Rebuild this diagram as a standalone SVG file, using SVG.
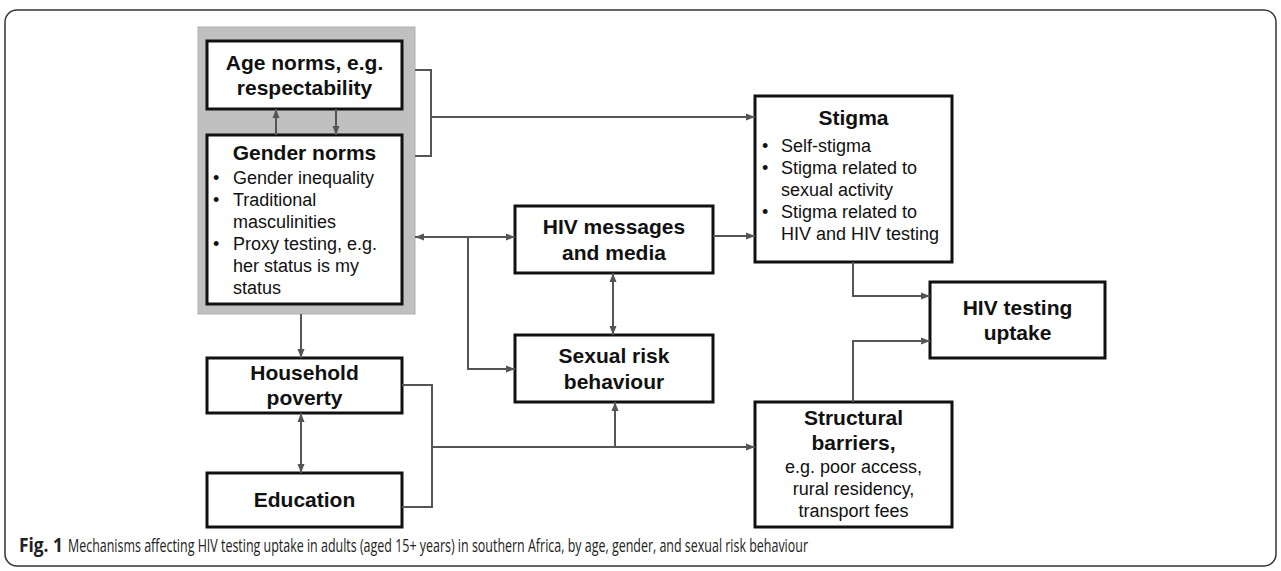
<svg xmlns="http://www.w3.org/2000/svg" width="1281" height="571" viewBox="0 0 1281 571">
<style>
.box{fill:#fff;stroke:#111;stroke-width:3}
.gray{fill:#c0c0c0;stroke:#b0b0b0;stroke-width:1}
.t{font-family:"Liberation Sans",Arial,sans-serif;font-size:21px;font-weight:bold;fill:#111;text-anchor:middle}
.r{font-family:"Liberation Sans",Arial,sans-serif;font-size:18px;fill:#111}
.rc{font-family:"Liberation Sans",Arial,sans-serif;font-size:18px;fill:#111;text-anchor:middle}
.c{fill:none;stroke:#555;stroke-width:2}
.cap{font-family:"Open Sans","Liberation Sans",sans-serif;font-size:19px;fill:#222}
</style>
<defs>
<marker id="ah" markerUnits="userSpaceOnUse" markerWidth="10" markerHeight="8" refX="9" refY="4" orient="auto-start-reverse">
<path d="M0,0.5 L9,4 L0,7.5 Z" fill="#555"/>
</marker>
</defs>
<rect x="5" y="10" width="1271" height="556" rx="12" fill="#fff" stroke="#333" stroke-width="1.5"/>
<g id="norms-group">
<rect class="gray" x="198" y="27" width="217" height="287"/>
</g>
<g id="age-norms">
<rect class="box" x="207" y="41" width="195" height="68"/>
<text class="t" x="304.5" y="70">Age norms, e.g.</text>
<text class="t" x="304.5" y="95">respectability</text>
</g>
<g id="gender-norms">
<rect class="box" x="207" y="135" width="195" height="169"/>
<text class="t" x="304.5" y="160">Gender norms</text>
<text class="r" x="213" y="184">•</text><text class="r" x="233" y="184">Gender inequality</text>
<text class="r" x="213" y="206">•</text><text class="r" x="233" y="206">Traditional</text>
<text class="r" x="233" y="228">masculinities</text>
<text class="r" x="213" y="250">•</text><text class="r" x="233" y="250">Proxy testing, e.g.</text>
<text class="r" x="233" y="272">her status is my</text>
<text class="r" x="233" y="294">status</text>
</g>
<g id="household-poverty">
<rect class="box" x="207" y="358" width="195" height="55"/>
<text class="t" x="304.5" y="380">Household</text>
<text class="t" x="304.5" y="405">poverty</text>
</g>
<g id="education">
<rect class="box" x="207" y="473" width="195" height="54"/>
<text class="t" x="304.5" y="507">Education</text>
</g>
<g id="hiv-messages">
<rect class="box" x="515" y="206" width="198" height="67"/>
<text class="t" x="614" y="234">HIV messages</text>
<text class="t" x="614" y="260">and media</text>
</g>
<g id="sexual-risk">
<rect class="box" x="515" y="335" width="198" height="67"/>
<text class="t" x="614" y="363">Sexual risk</text>
<text class="t" x="614" y="389">behaviour</text>
</g>
<g id="stigma">
<rect class="box" x="755" y="96" width="197" height="166"/>
<text class="t" x="853.5" y="125">Stigma</text>
<text class="r" x="762" y="152">•</text><text class="r" x="781" y="152">Self-stigma</text>
<text class="r" x="762" y="174">•</text><text class="r" x="781" y="174">Stigma related to</text>
<text class="r" x="781" y="196">sexual activity</text>
<text class="r" x="762" y="218">•</text><text class="r" x="781" y="218">Stigma related to</text>
<text class="r" x="781" y="240">HIV and HIV testing</text>
</g>
<g id="structural-barriers">
<rect class="box" x="755" y="402" width="197" height="125"/>
<text class="t" x="853.5" y="425">Structural</text>
<text class="t" x="853.5" y="450">barriers,</text>
<text class="rc" x="853.5" y="473">e.g. poor access,</text>
<text class="rc" x="853.5" y="495">rural residency,</text>
<text class="rc" x="853.5" y="517">transport fees</text>
</g>
<g id="hiv-testing">
<rect class="box" x="930" y="282" width="175" height="76"/>
<text class="t" x="1017.5" y="315">HIV testing</text>
<text class="t" x="1017.5" y="340">uptake</text>
</g>
<g id="connectors">
<polyline class="c" points="415,70 431,70 431,156 415,156"/>
<line class="c" x1="431" y1="117" x2="755" y2="117" marker-end="url(#ah)"/>
<line class="c" x1="276" y1="135" x2="276" y2="109" marker-end="url(#ah)"/>
<line class="c" x1="336" y1="109" x2="336" y2="135" marker-end="url(#ah)"/>
<line class="c" x1="415" y1="237" x2="515" y2="237" marker-start="url(#ah)" marker-end="url(#ah)"/>
<polyline class="c" points="468,237 468,369 515,369" marker-end="url(#ah)"/>
<line class="c" x1="713" y1="236" x2="755" y2="236" marker-end="url(#ah)"/>
<line class="c" x1="613" y1="273" x2="613" y2="335" marker-start="url(#ah)" marker-end="url(#ah)"/>
<line class="c" x1="301" y1="314" x2="301" y2="358" marker-end="url(#ah)"/>
<line class="c" x1="301" y1="413" x2="301" y2="473" marker-start="url(#ah)" marker-end="url(#ah)"/>
<polyline class="c" points="402,385 432,385 432,507 402,507"/>
<line class="c" x1="432" y1="447" x2="755" y2="447" marker-end="url(#ah)"/>
<line class="c" x1="615" y1="447" x2="615" y2="402" marker-end="url(#ah)"/>
<polyline class="c" points="853,262 853,296 930,296" marker-end="url(#ah)"/>
<polyline class="c" points="853,402 853,341 930,341" marker-end="url(#ah)"/>
</g>
<text class="cap" x="19" y="552" font-weight="bold" textLength="44" lengthAdjust="spacingAndGlyphs">Fig. 1</text>
<text class="cap" x="68" y="552" textLength="740" lengthAdjust="spacingAndGlyphs">Mechanisms affecting HIV testing uptake in adults (aged 15+ years) in southern Africa, by age, gender, and sexual risk behaviour</text>
</svg>
